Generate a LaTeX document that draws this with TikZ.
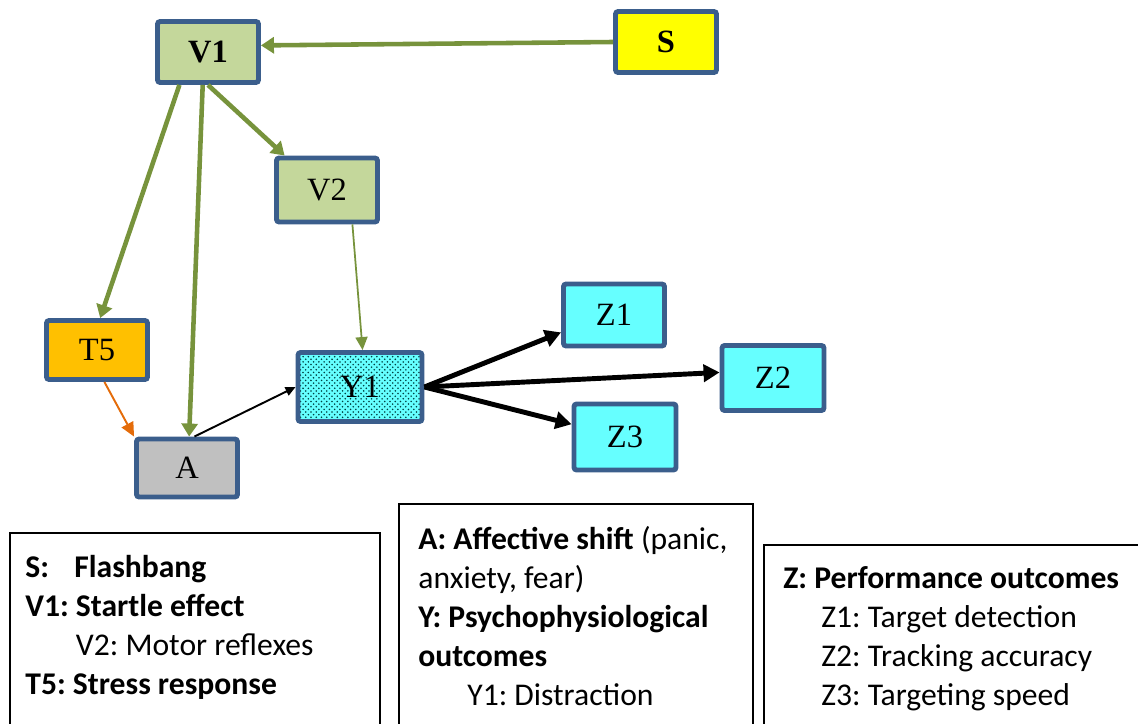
\documentclass[tikz,border=0pt]{standalone}
\usepackage{fontspec}
\setmainfont{Liberation Serif}
\newfontfamily\legendfont{Carlito}
\definecolor{frame}{RGB}{59,94,140}
\definecolor{vgreen}{RGB}{119,147,60}
\definecolor{sage}{RGB}{196,215,155}
\definecolor{flash}{RGB}{255,255,0}
\definecolor{amber}{RGB}{255,192,0}
\definecolor{stone}{RGB}{192,192,192}
\definecolor{aqua}{RGB}{102,255,255}
\definecolor{rust}{RGB}{228,108,10}
\usetikzlibrary{arrows.meta,calc,patterns}
\frenchspacing

\begin{document}
\begin{tikzpicture}[x=0.02cm,y=-0.02cm,
    box/.style={draw=frame,line width=2.8pt,rounded corners=1.5pt,minimum width=2.02cm,
      minimum height=1.22cm,inner sep=0pt,font=\fontsize{18.5}{20}\selectfont},
    garrow/.style={vgreen,line width=2.6pt,-{Triangle[length=2.6mm,width=3.2mm]}},
    thingarrow/.style={vgreen,line width=1pt,-{Triangle[length=2.6mm,width=2.4mm]}},
    karrow/.style={black,line width=2.8pt,-{Triangle[length=3.2mm,width=3.4mm]}},
    thinkarrow/.style={black,line width=1.1pt,-{Triangle[length=2mm,width=1.8mm]}},
    oarrow/.style={rust,line width=1.1pt,-{Triangle[length=2.8mm,width=2.6mm]}},
    legline/.style={draw=black,line width=1.1pt},
    legtext/.style={anchor=north west,align=left,inner sep=0pt,
      font=\legendfont\fontsize{18}{22.2}\selectfont}]
  \useasboundingbox (0,0) rectangle (1138,723);
  \clip (0,0) rectangle (1138,723);
  % boxes
  \node[box,fill=sage,font=\fontsize{18.5}{20}\selectfont\bfseries] (V1) at (208,52) {V1};
  \node[box,fill=flash,font=\fontsize{18.5}{20}\selectfont\bfseries] (S) at (666,42) {S};
  \node[box,fill=sage,minimum height=1.28cm] (V2) at (327,190) {V2};
  \node[box,fill=amber,minimum height=1.18cm] (T5) at (97,350) {T5};
  \node[box,fill=stone,minimum height=1.16cm] (A) at (187,468) {A};
  \node[box,preaction={fill=aqua},pattern=crosshatch dots,pattern color=teal!50!black,
    minimum width=2.48cm,minimum height=1.38cm] (Y1) at (360,387) {Y1};
  \node[box,fill=aqua,minimum height=1.24cm] (Z1) at (614,315) {Z1};
  \node[box,fill=aqua,minimum width=2.04cm,minimum height=1.3cm] (Z2) at (773,378) {Z2};
  \node[box,fill=aqua,minimum width=2.04cm,minimum height=1.32cm] (Z3) at (625,437) {Z3};
  % connectors
  \draw[garrow] (S.west) -- ($(V1.north east)!0.4!(V1.south east)$);
  \draw[garrow] ($(V1.south west)!0.23!(V1.south east)$) -- ($(T5.north west)!0.53!(T5.north east)$);
  \draw[garrow] ($(V1.south west)!0.45!(V1.south east)$) -- ($(A.north west)!0.52!(A.north east)$);
  \draw[garrow] (V1.south) -- ($(V2.north west)!0.1!(V2.north east)$);
  \draw[thingarrow] ($(V2.south west)!0.74!(V2.south east)$) -- ($(Y1.north west)!0.52!(Y1.north east)$);
  \draw[oarrow] ($(T5.south west)!0.57!(T5.south east)$) -- (A.north west);
  \draw[thinkarrow] ($(A.north west)!0.57!(A.north east)$) -- (Y1.west);
  \draw[karrow] (Y1.east) -- ($(Z1.north west)!0.76!(Z1.south west)$);
  \draw[karrow] (Y1.east) -- ($(Z2.north west)!0.42!(Z2.south west)$);
  \draw[karrow] (Y1.east) -- ($(Z3.north west)!0.32!(Z3.south west)$);
  % legend
  \draw[legline] (10,533) rectangle (380,745);
  \draw[legline] (399,504) rectangle (753,745);
  \draw[legline] (764,545) rectangle (1150,745);
  \node[legtext] (legV) at (25,555) {\textbf{S:}\hspace{0.8em}\textbf{Flashbang}\\
    \textbf{V1: Startle effect}\\
    \hspace*{1.6em}V2: Motor reflexes\\
    \textbf{T5: Stress response}};
  \node[legtext] (legY) at (418,526) {\textbf{A: Affective shift} (panic,\\
    anxiety, fear)\\
    \textbf{Y: Psychophysiological}\\
    \textbf{outcomes}\\
    \hspace*{1.55em}Y1: Distraction};
  \node[legtext] (legZ) at (783,566) {\textbf{Z: Performance outcomes}\\
    \hspace*{1.2em}Z1: Target detection\\
    \hspace*{1.2em}Z2: Tracking accuracy\\
    \hspace*{1.2em}Z3: Targeting speed};
\end{tikzpicture}
\end{document}
